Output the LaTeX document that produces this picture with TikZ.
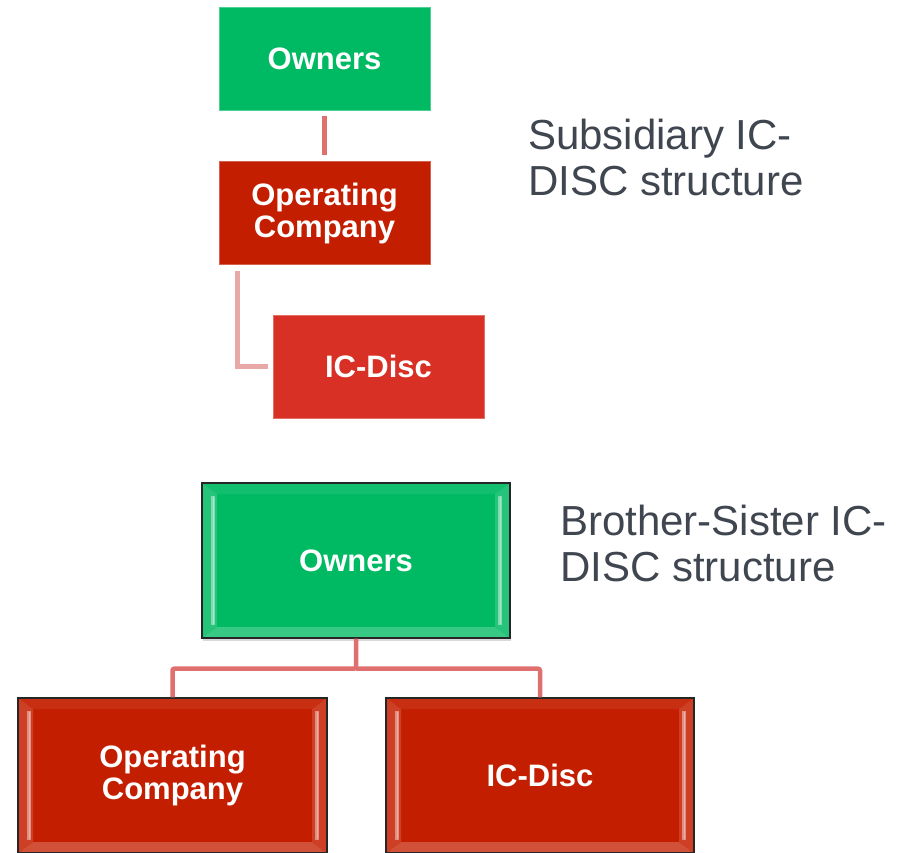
\documentclass[tikz,border=0pt]{standalone}
\usepackage{fontspec}
\setmainfont{Liberation Sans}
\usetikzlibrary{shadows}

\definecolor{ownergreen}{RGB}{0,186,99}
\definecolor{opred}{RGB}{196,30,0}
\definecolor{discred}{RGB}{217,48,37}
\definecolor{linkred}{RGB}{224,112,112}
\definecolor{linkpink}{RGB}{232,168,168}
\definecolor{captiongray}{RGB}{64,70,80}

% bevel bands drawn inside a box (left/right bright edges, soft top/bottom)
\newcommand\bevelbands[1]{%
  \path (path picture bounding box.north west) coordinate (bv-nw)
        (path picture bounding box.north east) coordinate (bv-ne)
        (path picture bounding box.south west) coordinate (bv-sw)
        (path picture bounding box.south east) coordinate (bv-se);
  \fill[#1!93!white] (bv-nw) -- (bv-ne) -- ([xshift=-15pt,yshift=-11pt]bv-ne)
        -- ([xshift=15pt,yshift=-11pt]bv-nw) -- cycle;
  \fill[#1!78!white] (bv-sw) -- (bv-se) -- ([xshift=-15pt,yshift=11pt]bv-se)
        -- ([xshift=15pt,yshift=11pt]bv-sw) -- cycle;
  \fill[#1!85!white] (bv-nw) -- ([xshift=15pt,yshift=-11pt]bv-nw)
        -- ([xshift=15pt,yshift=11pt]bv-sw) -- (bv-sw) -- cycle;
  \fill[#1!85!white] (bv-ne) -- ([xshift=-15pt,yshift=-11pt]bv-ne)
        -- ([xshift=-15pt,yshift=11pt]bv-se) -- (bv-se) -- cycle;
  \draw[#1!50!white, line width=4pt]
        ([xshift=11pt,yshift=-13pt]bv-nw) -- ([xshift=11pt,yshift=13pt]bv-sw);
  \draw[#1!50!white, line width=4pt]
        ([xshift=-10pt,yshift=-13pt]bv-ne) -- ([xshift=-10pt,yshift=13pt]bv-se);
  \draw[#1!35!white, line width=1.2pt]
        ([xshift=11.5pt,yshift=-14pt]bv-nw) -- ([xshift=11.5pt,yshift=14pt]bv-sw);
  \draw[#1!35!white, line width=1.2pt]
        ([xshift=-9.5pt,yshift=-14pt]bv-ne) -- ([xshift=-9.5pt,yshift=14pt]bv-se);
}

\tikzset{
  flatbox/.style={fill=#1, draw=#1!70!white, line width=0.6pt, inner sep=0pt,
    text=white, align=center, font=\fontsize{31}{32}\selectfont\bfseries},
  bevelbox/.style={fill=#1, draw=black!85, line width=1.3pt, inner sep=0pt,
    drop shadow={opacity=0.3, shadow xshift=1pt, shadow yshift=-3pt},
    path picture={\bevelbands{#1}},
    text=white, align=center, font=\fontsize{31}{32}\selectfont\bfseries},
  smallbox/.style={minimum width=211pt, minimum height=103pt},
  bigbox/.style={minimum width=308pt, minimum height=155pt},
  link/.style={draw=#1, line width=4.5pt},
  caption/.style={text=captiongray, align=left, inner sep=0pt,
    font=\fontsize{42}{46}\selectfont}
}

\begin{document}
\begin{tikzpicture}[x=1pt,y=-1pt]
\useasboundingbox (0,0) rectangle (911,853);

% subsidiary structure
\node[flatbox=ownergreen, smallbox] (own1) at (324.5,58.5) {Owners};
\node[flatbox=opred, smallbox] (opc1) at (324.5,213) {Operating\\Company};
\node[flatbox=discred, smallbox] (ic1) at (378.5,366.5) {IC-Disc};

\draw[link=linkred, shorten <=6pt, shorten >=6pt] (own1) -- (opc1);
\coordinate (opc1foot) at ([xshift=19pt]opc1.south west);
\draw[link=linkpink, shorten <=6pt, shorten >=5pt] (opc1foot) |- (ic1.west);

\node[caption, anchor=base west] (cap1) at (528,196)
  {Subsidiary IC-\\DISC structure};

% brother-sister structure
\node[bevelbox=ownergreen, bigbox] (own2) at (356,560.5) {Owners};
\node[bevelbox=opred, bigbox, minimum width=309pt] (opc2) at (172.5,775.5)
  {Operating\\Company};
\node[bevelbox=opred, bigbox] (ic2) at (540,775.5) {IC-Disc};

\coordinate (bus) at ([yshift=-30pt]own2.south);
\draw[link=linkred, rounded corners=2pt] (own2.south) -- (bus) -| (opc2.north);
\draw[link=linkred, rounded corners=2pt] (bus) -| (ic2.north);

\node[caption, anchor=base west] (cap2) at (560,581)
  {Brother-Sister IC-\\DISC structure};
\end{tikzpicture}
\end{document}
